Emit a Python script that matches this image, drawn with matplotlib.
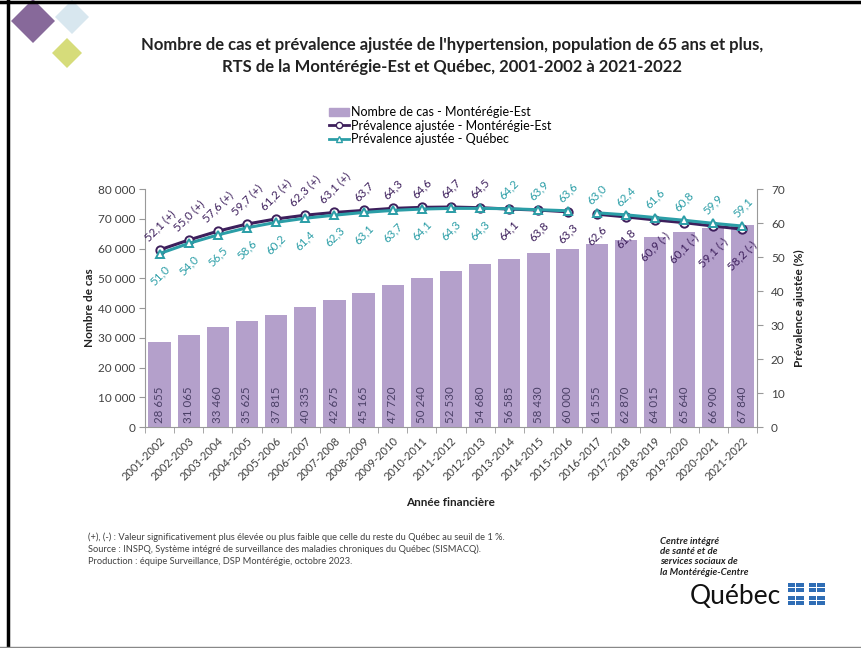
import matplotlib
matplotlib.use("Agg")
import matplotlib.pyplot as plt
from matplotlib.patches import Polygon, Rectangle
from matplotlib.lines import Line2D
import numpy as np

plt.rcParams['font.family'] = ['Lato', 'DejaVu Sans']

years = ["2001-2002", "2002-2003", "2003-2004", "2004-2005", "2005-2006", "2006-2007",
         "2007-2008", "2008-2009", "2009-2010", "2010-2011", "2011-2012", "2012-2013",
         "2013-2014", "2014-2015", "2015-2016", "2016-2017", "2017-2018", "2018-2019",
         "2019-2020", "2020-2021", "2021-2022"]
cases = [28655, 31065, 33460, 35625, 37815, 40335, 42675, 45165, 47720, 50240, 52530,
         54680, 56585, 58430, 60000, 61555, 62870, 64015, 65640, 66900, 67840]
prev_me = [52.1, 55.0, 57.6, 59.7, 61.2, 62.3, 63.1, 63.7, 64.3, 64.6, 64.7, 64.5,
           64.1, 63.8, 63.3, 62.6, 61.8, 60.9, 60.1, 59.1, 58.2]
flags_me = ["(+)", "(+)", "(+)", "(+)", "(+)", "(+)", "(+)", "", "", "", "", "",
            "", "", "", "", "", "(-)", "(-)", "(-)", "(-)"]
prev_qc = [51.0, 54.0, 56.5, 58.6, 60.2, 61.4, 62.3, 63.1, 63.7, 64.1, 64.3, 64.3,
           64.2, 63.9, 63.6, 63.0, 62.4, 61.6, 60.8, 59.9, 59.1]
break_after = 14      # series break between 2015-2016 and 2016-2017
swap_from = 12        # from this index, Québec labels go above

BAR = '#b4a0cb'
ME = '#3d1f5c'
QC = '#2b9ea7'
TXT = '#404040'

def fr(n):
    return f"{n:,}".replace(",", " ")

def frd(v):
    return f"{v:.1f}".replace(".", ",")

fig = plt.figure(figsize=(8.62, 6.48), dpi=100)
W, H = 862, 648
ax = fig.add_axes([145 / W, 1 - 427 / H, 612 / W, 238 / H])
ax2 = ax.twinx()

x = np.arange(len(years))
ax.bar(x, cases, width=0.76, color=BAR, zorder=2)
for xi, c in zip(x, cases):
    ax.annotate(fr(c), (xi, 0), xytext=(0, 3), textcoords='offset points',
                rotation=90, ha='center', va='bottom', fontsize=8.3, color='#4a3f66')

ax.set_xlim(-0.5, len(years) - 0.5)
ax.set_ylim(0, 80000)
ax.set_yticks(np.arange(0, 80001, 10000))
ax.set_yticklabels([fr(v) for v in range(0, 80001, 10000)], fontsize=8.5, color=TXT)
ax.set_xticks(x)
ax.set_xticklabels(years, rotation=45, ha='right', rotation_mode='anchor', fontsize=8, color=TXT)
ax.tick_params(axis='x', which='major', length=0, pad=6)
ax.set_xticks(np.arange(-0.5, len(years), 1), minor=True)
ax.tick_params(axis='x', which='minor', length=4, color='#999999')
ax.tick_params(axis='y', length=4, color='#999999', pad=3)
for s in ['top', 'right']:
    ax.spines[s].set_visible(False)
ax.spines['left'].set_color('#999999')
ax.spines['bottom'].set_color('#999999')

ax2.set_ylim(0, 70)
ax2.set_yticks(np.arange(0, 71, 10))
ax2.set_yticklabels([str(v) for v in range(0, 71, 10)], fontsize=8.5, color=TXT)
ax2.tick_params(axis='y', length=4, color='#999999', pad=6)
for s in ['top', 'left', 'bottom']:
    ax2.spines[s].set_visible(False)
ax2.spines['right'].set_color('#999999')

segs = [slice(0, break_after + 1), slice(break_after + 1, len(years))]
for sl in segs:
    ax2.plot(x[sl], prev_me[sl], color=ME, lw=2.2, marker='o', ms=6,
             mfc='white', mec=ME, mew=1.4, zorder=4)
    ax2.plot(x[sl], prev_qc[sl], color=QC, lw=2.2, marker='^', ms=6,
             mfc='white', mec=QC, mew=1.4, zorder=5)

for i in range(len(years)):
    me_txt = frd(prev_me[i]) + (" " + flags_me[i] if flags_me[i] else "")
    qc_txt = frd(prev_qc[i])
    if i < swap_from:
        ax2.annotate(me_txt, (x[i], prev_me[i]), xytext=(0, 5), textcoords='offset points',
                     rotation=45, ha='center', va='bottom', fontsize=8.3, color=ME)
        ax2.annotate(qc_txt, (x[i], prev_qc[i]), xytext=(0, -7), textcoords='offset points',
                     rotation=45, ha='center', va='top', fontsize=8.3, color=QC)
    else:
        ax2.annotate(qc_txt, (x[i], prev_qc[i]), xytext=(0, 5), textcoords='offset points',
                     rotation=45, ha='center', va='bottom', fontsize=8.3, color=QC)
        ax2.annotate(me_txt, (x[i], prev_me[i]), xytext=(0, -7), textcoords='offset points',
                     rotation=45, ha='center', va='top', fontsize=8.3, color=ME)

ax.set_ylabel("Nombre de cas", fontsize=8.5, fontweight='bold', color='#222222', labelpad=2)
ax2.set_ylabel("Prévalence ajustée (%)", fontsize=8.5, fontweight='bold', color='#222222', labelpad=7)
fig.text(451 / W, 1 - 503 / H, "Année financière", ha='center', va='center',
         fontsize=8.5, fontweight='bold', color='#222222')

# Title
fig.text(452 / W, 1 - 45 / H, "Nombre de cas et prévalence ajustée de l'hypertension, population de 65 ans et plus,",
         ha='center', va='center', fontsize=12, fontweight='bold', color='#222222')
fig.text(452 / W, 1 - 67 / H, "RTS de la Montérégie-Est et Québec, 2001-2002 à 2021-2022",
         ha='center', va='center', fontsize=12, fontweight='bold', color='#222222')

# Legend
handles = [Rectangle((0, 0), 1, 1, color=BAR),
           Line2D([], [], color=ME, lw=2, marker='o', ms=4.5, mfc='white', mec=ME),
           Line2D([], [], color=QC, lw=2, marker='^', ms=4.5, mfc='white', mec=QC)]
labels = ["Nombre de cas - Montérégie-Est", "Prévalence ajustée - Montérégie-Est",
          "Prévalence ajustée - Québec"]
fig.legend(handles, labels, loc='upper center', bbox_to_anchor=(440 / W, 1 - 100 / H),
           frameon=False, fontsize=9, handlelength=1.6, handletextpad=0.2,
           labelspacing=0.12, borderpad=0)

# Footnotes
foot = ["(+), (-) : Valeur significativement plus élevée ou plus faible que celle du reste du Québec au seuil de 1 %.",
        "Source : INSPQ, Système intégré de surveillance des maladies chroniques du Québec (SISMACQ).",
        "Production : équipe Surveillance, DSP Montérégie, octobre 2023."]
for k, line in enumerate(foot):
    fig.text(88 / W, 1 - (537 + 12.5 * k) / H, line, ha='left', va='center', fontsize=6.7, color=TXT)

# Logo top-left (diamonds)
def diamond(cx, cy, r, color):
    pts = [(cx / W, 1 - (cy - r) / H), ((cx + r) / W, 1 - cy / H),
           (cx / W, 1 - (cy + r) / H), ((cx - r) / W, 1 - cy / H)]
    fig.patches.append(Polygon(pts, closed=True, transform=fig.transFigure,
                               facecolor=color, edgecolor='none'))

diamond(72, 17, 17, '#d8e7ef')
diamond(33, 21, 22, '#87699a')
diamond(67, 53, 15, '#d6dc7a')

# CISSS / Québec logo bottom-right
for k, line in enumerate(["Centre intégré", "de santé et de", "services sociaux de", "la Montérégie-Centre"]):
    fig.text(660 / W, 1 - (541 + 10.5 * k) / H, line, ha='left', va='center', fontsize=7,
             fontweight='bold', fontstyle='italic', color='#222222')
fig.text(690 / W, 1 - 597 / H, "Québec", ha='left', va='center', fontsize=19, color='#111111')
for fx in (788, 809):
    for fy in (583, 596):
        fig.patches.append(Rectangle((fx / W, 1 - (fy + 9) / H), 16 / W, 9 / H,
                                     transform=fig.transFigure, facecolor='#2f6db5', edgecolor='none'))
        fig.patches.append(Rectangle(((fx + 7.5) / W, 1 - (fy + 9) / H), 1 / W, 9 / H,
                                     transform=fig.transFigure, facecolor='white', edgecolor='none'))
        fig.patches.append(Rectangle((fx / W, 1 - (fy + 5) / H), 16 / W, 1 / H,
                                     transform=fig.transFigure, facecolor='white', edgecolor='none'))

# Slide frame
fig.add_artist(Line2D([8 / W, 8 / W], [0, 1], color='black', lw=2.5, transform=fig.transFigure))
fig.add_artist(Line2D([0, 1], [1 - 1.5 / H, 1 - 1.5 / H], color='black', lw=2.5, transform=fig.transFigure))
fig.add_artist(Line2D([0, 1], [1 - 646.5 / H, 1 - 646.5 / H], color='#888888', lw=1, transform=fig.transFigure))

fig.savefig("out.png", dpi=100)
